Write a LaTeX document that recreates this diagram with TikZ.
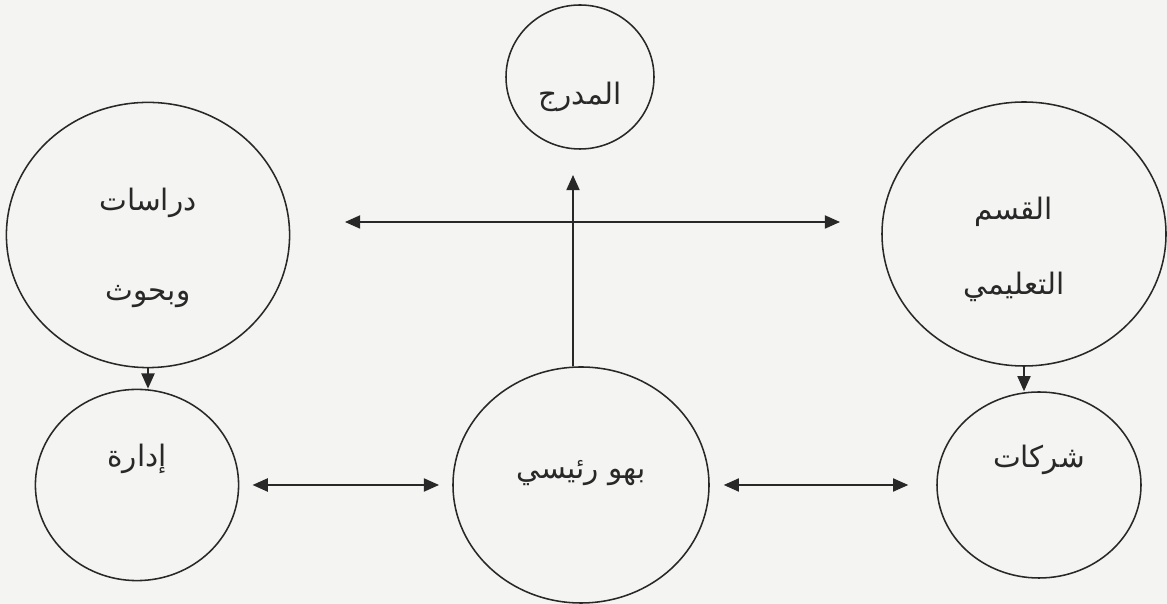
\documentclass[tikz,border=0pt]{standalone}
\usepackage{fontspec}
\newfontfamily\arabicfont[Script=Arabic]{DejaVu Sans}
\TeXXeTstate=1
\usepackage{xcolor}
\definecolor{scanbg}{RGB}{244,244,242}
\definecolor{inkgray}{RGB}{40,40,40}
\usetikzlibrary{arrows.meta,positioning,shapes.geometric,calc}

\begin{document}
\begin{tikzpicture}[
    hall/.style={draw=inkgray,ellipse,line width=1.1pt,inner sep=0pt},
    hname/.style={font=\arabicfont\fontsize{21}{24}\selectfont,text=inkgray,align=center},
    link/.style={-{Triangle[length=3.8mm,width=3.3mm]},line width=1.1pt,draw=inkgray},
    dlink/.style={{Triangle[length=3.8mm,width=3.3mm]}-{Triangle[length=3.8mm,width=3.3mm]},line width=1.1pt,draw=inkgray}]
  \fill[scanbg] (0,0) rectangle (29.175,15.1);
  \useasboundingbox (0,0) rectangle (29.175,15.1);

  %% Top row
  \node[hall,minimum width=3.7cm,minimum height=3.6cm] (madraj) at (14.5,13.175) {};
  \node[hall,minimum width=7.08cm,minimum height=6.63cm] (dirasat) at (3.7,9.225) {};
  \node[hall,minimum width=7.1cm,minimum height=6.6cm] (qism) at (25.6,9.25) {};
  %% Bottom row
  \node[hall,minimum width=5.08cm,minimum height=4.78cm] (idara) at (3.425,2.975) {};
  \node[hall,minimum width=6.4cm,minimum height=5.9cm] (bahw) at (14.525,2.975) {};
  \node[hall,minimum width=5.1cm,minimum height=4.65cm] (sharikat) at (25.975,2.975) {};

  %% Names
  \node[hname] at ($(madraj)+(0,-0.5)$) {\beginR المدرج\endR};
  \node[hname] at ($(dirasat)+(0,0.8)$) {\beginR دراسات\endR};
  \node[hname] at ($(dirasat)+(0,-1.55)$) {\beginR وبحوث\endR};
  \node[hname] at ($(qism)+(-0.25,0.55)$) {\beginR القسم\endR};
  \node[hname] at ($(qism)+(-0.25,-1.32)$) {\beginR التعليمي\endR};
  \node[hname] at ($(idara)+(0,0.65)$) {\beginR إدارة\endR};
  \node[hname] at ($(bahw)+(0,0.3)$) {\beginR بهو رئيسي\endR};
  \node[hname] at ($(sharikat)+(0,0.62)$) {\beginR شركات\endR};

  %% Arrows
  \coordinate (hleft) at (8.625,9.55);
  \coordinate (hright) at (21.0,9.55);
  \coordinate (vtop) at (14.325,10.725);
  \draw[dlink] (hleft) -- (hright);
  \draw[link] (vtop |- bahw.north) -- (vtop);
  \draw[link] (dirasat.south) -- (dirasat.south |- idara.north);
  \draw[link] (qism.south) -- (qism.south |- sharikat.north);
  \draw[dlink,shorten <=0.33cm,shorten >=0.33cm] (idara.east) -- (bahw.west);
  \draw[dlink,shorten <=0.35cm,shorten >=0.7cm] (bahw.east) -- (sharikat.west);
\end{tikzpicture}
\end{document}
